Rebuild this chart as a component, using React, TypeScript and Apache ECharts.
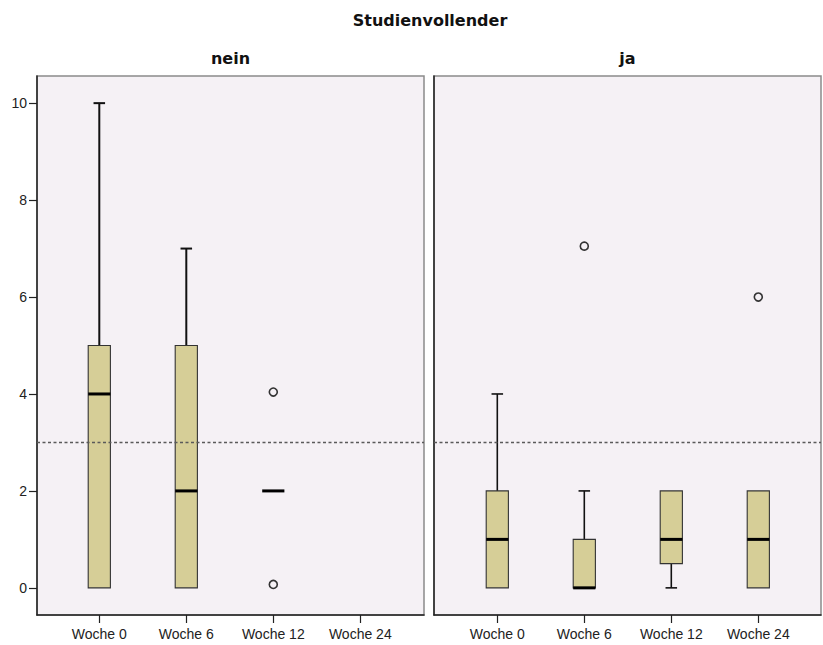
import React, { useEffect, useRef } from "react";
import * as echarts from "echarts";

const TITLE = "Studienvollender";
const PANEL_LABELS = ["nein", "ja"];
const CATEGORIES = ["Woche 0", "Woche 6", "Woche 12", "Woche 24"];
// [min, q1, median, q3, max] per category; null = no data
const NEIN_BOXES: (number[] | null)[] = [
  [0, 0, 4, 5, 10],
  [0, 0, 2, 5, 7],
  [2, 2, 2, 2, 2],
  null,
];
const JA_BOXES: (number[] | null)[] = [
  [0, 0, 1, 2, 4],
  [0, 0, 0, 1, 2],
  [0, 0.5, 1, 2, 2],
  [0, 0, 1, 2, 2],
];
const NEIN_OUTLIERS: [string, number][] = [
  ["Woche 12", 4.04],
  ["Woche 12", 0.07],
];
const JA_OUTLIERS: [string, number][] = [
  ["Woche 6", 7.05],
  ["Woche 24", 6.0],
];
const Y_TICKS = [0, 2, 4, 6, 8, 10];
const REFERENCE_VALUE = 3;
const Y_MIN = -0.56;
const Y_MAX = 10.56;

const BG = "#F5F1F5";
const BOX_FILL = "#D6CE97";
const FONT = "Liberation Sans";

function boxData(boxes: (number[] | null)[]) {
  const out: number[][] = [];
  boxes.forEach((b, i) => {
    if (b) out.push([i, ...b]);
  });
  return out;
}

function makeRenderItem(whiskerWidth: number) {
  return (params: any, api: any) => {
    const i = api.value(0);
    const mn = api.value(1);
    const q1 = api.value(2);
    const md = api.value(3);
    const q3 = api.value(4);
    const mx = api.value(5);
    const c = (v: number) => api.coord([i, v]);
    const cx = c(md)[0];
    const band = api.size([1, 0])[0];
    const bw = band * 0.255;
    const cw = bw * 0.52;
    const yMn = c(mn)[1];
    const yQ1 = c(q1)[1];
    const yMd = c(md)[1];
    const yQ3 = c(q3)[1];
    const yMx = c(mx)[1];
    const children: any[] = [];
    const wStyle = { stroke: "#111", lineWidth: whiskerWidth };
    if (mx > q3) {
      children.push({ type: "line", shape: { x1: cx, y1: yQ3, x2: cx, y2: yMx }, style: wStyle });
      children.push({ type: "line", shape: { x1: cx - cw / 2, y1: yMx, x2: cx + cw / 2, y2: yMx }, style: wStyle });
    }
    if (mn < q1) {
      children.push({ type: "line", shape: { x1: cx, y1: yQ1, x2: cx, y2: yMn }, style: wStyle });
      children.push({ type: "line", shape: { x1: cx - cw / 2, y1: yMn, x2: cx + cw / 2, y2: yMn }, style: wStyle });
    }
    if (q3 > q1) {
      children.push({
        type: "rect",
        shape: { x: cx - bw / 2, y: yQ3, width: bw, height: yQ1 - yQ3 },
        style: { fill: BOX_FILL, stroke: "#333", lineWidth: 1.1 },
      });
    }
    children.push({
      type: "line",
      shape: { x1: cx - bw / 2, y1: yMd, x2: cx + bw / 2, y2: yMd },
      style: { stroke: "#000", lineWidth: 3 },
    });
    return { type: "group", children };
  };
}

export default function App() {
  const ref = useRef<HTMLDivElement>(null);
  useEffect(() => {
    document.body.style.margin = "0";
    if (!ref.current) return;
    const chart = echarts.init(ref.current, null, { renderer: "svg" });
    const outer = [
      { left: 37, top: 76, width: 387, height: 539 },
      { left: 434, top: 76, width: 387, height: 539 },
    ];
    const inner = [
      { left: 55.8, top: 76, width: 348, height: 539 },
      { left: 453.8, top: 76, width: 348, height: 539 },
    ];
    const grids: any[] = [];
    const xAxes: any[] = [];
    const yAxes: any[] = [];
    const series: any[] = [];
    const boxesPerPanel = [NEIN_BOXES, JA_BOXES];
    const outliersPerPanel = [NEIN_OUTLIERS, JA_OUTLIERS];
    const whiskerW = [2, 1.6];
    for (let p = 0; p < 2; p++) {
      const og = grids.length;
      grids.push({
        ...outer[p],
        show: true,
        backgroundColor: BG,
        borderColor: "#8a8a8a",
        borderWidth: 1.5,
      });
      xAxes.push({
        gridIndex: og,
        type: "value",
        min: 0,
        max: 1,
        position: "bottom",
        axisLine: { show: true, onZero: false, lineStyle: { color: "#222", width: 1.5 } },
        axisTick: { show: false },
        axisLabel: { show: false },
        splitLine: { show: false },
      });
      yAxes.push({
        gridIndex: og,
        type: "value",
        min: Y_MIN,
        max: Y_MAX,
        position: "left",
        axisLine: { show: true, onZero: false, lineStyle: { color: "#222", width: 1.5 } },
        axisTick: {
          show: p === 0,
          length: 8,
          customValues: Y_TICKS,
          lineStyle: { color: "#222", width: 1.2 },
        },
        axisLabel: {
          show: p === 0,
          customValues: Y_TICKS,
          margin: 10,
          fontFamily: FONT,
          fontSize: 14,
          color: "#222",
        },
        splitLine: { show: false },
      });
      const ig = grids.length;
      grids.push({ ...inner[p], show: false });
      xAxes.push({
        gridIndex: ig,
        type: "category",
        data: CATEGORIES,
        boundaryGap: true,
        position: "bottom",
        axisLine: { show: false, onZero: false },
        axisTick: {
          show: true,
          alignWithLabel: true,
          length: 8,
          lineStyle: { color: "#222", width: 1.2 },
        },
        axisLabel: {
          margin: 12,
          fontFamily: FONT,
          fontSize: 14,
          color: "#222",
          interval: 0,
        },
        splitLine: { show: false },
      });
      yAxes.push({
        gridIndex: ig,
        type: "value",
        min: Y_MIN,
        max: Y_MAX,
        show: false,
        splitLine: { show: false },
      });
      series.push({
        type: "custom",
        xAxisIndex: ig,
        yAxisIndex: ig,
        renderItem: makeRenderItem(whiskerW[p]),
        data: boxData(boxesPerPanel[p]),
        encode: { x: 0, y: [1, 2, 3, 4, 5] },
        z: 2,
        silent: true,
      });
      series.push({
        type: "scatter",
        xAxisIndex: ig,
        yAxisIndex: ig,
        data: outliersPerPanel[p],
        symbol: "circle",
        symbolSize: 8,
        itemStyle: { color: BG, borderColor: "#333", borderWidth: 1.6, opacity: 1 },
        z: 4,
        silent: true,
      });
      series.push({
        type: "line",
        xAxisIndex: og,
        yAxisIndex: og,
        data: [
          [0, REFERENCE_VALUE],
          [1, REFERENCE_VALUE],
        ],
        symbol: "none",
        lineStyle: { color: "#5a5a5a", width: 1.5, type: [3, 2.5] },
        z: 5,
        silent: true,
      });
    }
    const textStyle = (text: string) => ({
      text,
      font: "bold 16px 'DejaVu Sans'",
      fill: "#111",
      textAlign: "center",
      textVerticalAlign: "middle",
    });
    chart.setOption({
      animation: false,
      tooltip: { show: false },
      grid: grids,
      xAxis: xAxes,
      yAxis: yAxes,
      series,
      graphic: [
        { type: "text", x: 430, y: 20, style: textStyle(TITLE) },
        { type: "text", x: 230.5, y: 58, style: textStyle(PANEL_LABELS[0]) },
        { type: "text", x: 627.5, y: 58, style: textStyle(PANEL_LABELS[1]) },
      ],
    });
    return () => chart.dispose();
  }, []);
  return <div ref={ref} style={{ width: 823, height: 645 }} />;
}
